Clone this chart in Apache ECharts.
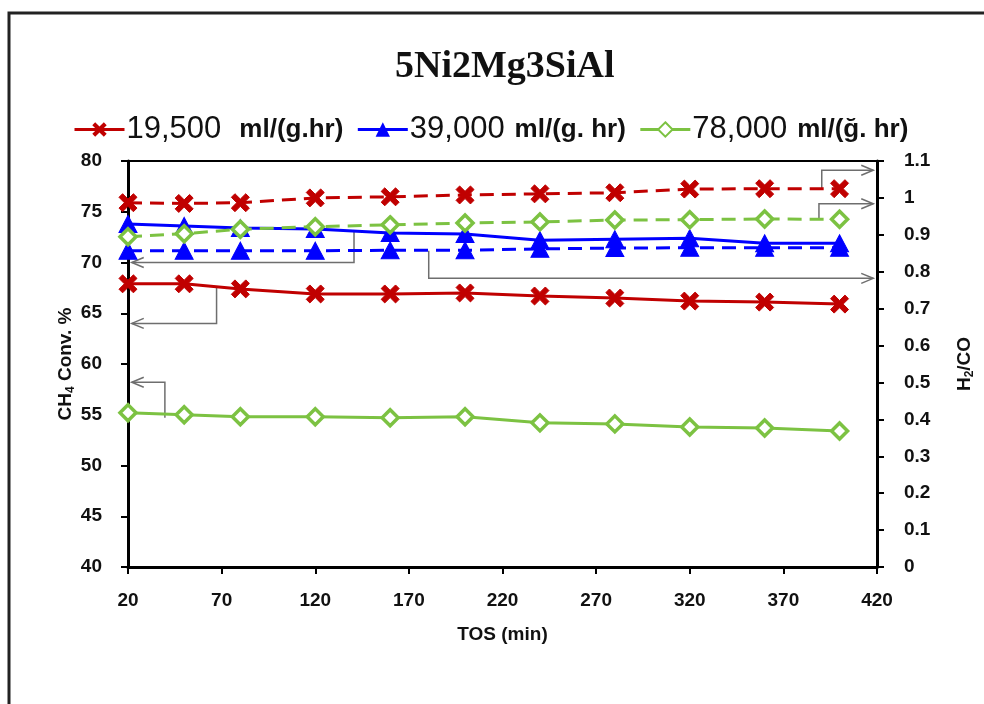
<!DOCTYPE html>
<html>
<head>
<meta charset="utf-8">
<script src="https://cdn.jsdelivr.net/npm/echarts@6/dist/echarts.min.js"></script>
<style>
  html, body { margin: 0; padding: 0; background: #fff; }
  #chart { width: 984px; height: 704px; }
</style>
</head>
<body>
<div id="chart"></div>
<script>
// time on stream, min
const tosMin = [20, 50, 80, 120, 160, 200, 240, 280, 320, 360, 400];

// legend names (GHSV)
const ghsvNames = ['19,500', '39,000', '78,000'];
const ghsvUnits = ['ml/(g.hr)', 'ml/(g. hr)', 'ml/(ğ. hr)'];

// CH4 conversion, % (left axis, solid lines)
const conv19500 = [67.9, 67.9, 67.4, 66.9, 66.9, 67.0, 66.7, 66.5, 66.2, 66.1, 65.9];
const conv39000 = [73.8, 73.6, 73.4, 73.3, 72.9, 72.8, 72.2, 72.3, 72.4, 71.9, 71.9];
const conv78000 = [55.2, 55.0, 54.8, 54.8, 54.7, 54.8, 54.2, 54.1, 53.8, 53.7, 53.4];

// H2/CO ratio (right axis, dashed lines)
const ratio19500 = [0.987, 0.985, 0.987, 1.0, 1.003, 1.008, 1.011, 1.014, 1.024, 1.025, 1.025];
const ratio39000 = [0.857, 0.857, 0.857, 0.857, 0.858, 0.858, 0.862, 0.864, 0.865, 0.865, 0.865];
const ratio78000 = [0.895, 0.903, 0.915, 0.922, 0.927, 0.932, 0.935, 0.940, 0.941, 0.943, 0.942];

// axis ticks
const xTicks = { min: 20, max: 420, interval: 50 };
const convTicks = { min: 40, max: 80, interval: 5 };
const ratioTicks = { min: 0, max: 1.1, interval: 0.1 };

// connector arrows pointing to the axis each curve belongs to: [x, y] in data units
const arrows = [
  { axis: 0, dir: -1, pts: [[140.7, 73.0], [140.7, 70.0], [22, 70.0]] },
  { axis: 0, dir: -1, pts: [[67.3, 67.5], [67.3, 64.0], [22, 64.0]] },
  { axis: 0, dir: -1, pts: [[39.7, 54.7], [39.7, 58.2], [22, 58.2]] },
  { axis: 1, dir: 1, pts: [[180.6, 0.857], [180.6, 0.782], [418, 0.782]] },
  { axis: 1, dir: 1, pts: [[390.5, 1.027], [390.5, 1.075], [418, 1.075]] },
  { axis: 1, dir: 1, pts: [[389, 0.944], [389, 0.984], [418, 0.984]] }
];

const RED = '#c00000';
const BLUE = '#0000ff';
const GREEN = '#7cc242';
const FONT = 'Liberation Sans, Arial, sans-serif';
const xSymbol = 'path://M2,0 L5,3 L8,0 L10,2 L7,5 L10,8 L8,10 L5,7 L2,10 L0,8 L3,5 L0,2 Z';

const pairs = (ys) => tosMin.map((t, i) => [t, ys[i]]);

const mkSeries = (name, ys, yAxisIndex, color, dashed, symbol) => {
  const s = {
    name: name,
    type: 'line',
    yAxisIndex: yAxisIndex,
    data: pairs(ys),
    symbol: symbol,
    symbolSize: 18,
    lineStyle: { color: color, width: 3, type: dashed ? [14, 8] : 'solid' },
    itemStyle: { color: color, borderColor: color },
    emphasis: { disabled: true },
    z: dashed ? 3 : 2
  };
  if (symbol === 'diamond') {
    s.symbolSize = 16;
    s.itemStyle = { color: '#fff', borderColor: color, borderWidth: 3.5 };
    s.z = dashed ? 5 : 4;
  }
  if (symbol === 'triangle') s.symbolSize = [18, 17];
  return s;
};

const axisLabelStyle = { color: '#111', fontSize: 19, fontWeight: 'bold', fontFamily: FONT };
const axisNameStyle = { color: '#111', fontSize: 19, fontWeight: 'bold', fontFamily: FONT };
const axisLineStyle = { show: true, lineStyle: { color: '#000', width: 3 } };
const tickStyle = { show: true, inside: false, length: 7, lineStyle: { color: '#000', width: 2 } };
const subRich = { s: { fontFamily: FONT, fontSize: 12, fontWeight: 'bold', color: '#111', padding: [10, 0, 0, 0] } };

const chart = echarts.init(document.getElementById('chart'), null, { renderer: 'canvas' });

const option = {
  backgroundColor: '#fff',
  animation: false,
  title: {
    text: '5Ni2Mg3SiAl',
    left: 390,
    top: 43,
    textStyle: { fontFamily: 'Liberation Serif, Times New Roman, serif', fontWeight: 'bold', fontSize: 38, color: '#111' }
  },
  legend: {
    data: ghsvNames,
    left: 68,
    top: 109,
    itemWidth: 50,
    itemHeight: 18,
    itemGap: 13,
    lineStyle: { width: 3 },
    formatter: (name) => {
      const i = ghsvNames.indexOf(name);
      return '{n|' + name + '}{' + (i === 0 ? 'u1' : 'u') + '|' + ghsvUnits[i] + '}';
    },
    textStyle: {
      padding: [0, 0, 0, -3],
      rich: {
        n: { fontFamily: FONT, fontSize: 31, color: '#111' },
        u1: { fontFamily: FONT, fontSize: 26, fontWeight: 'bold', color: '#111', padding: [0, 0, 0, 18] },
        u: { fontFamily: FONT, fontSize: 26, fontWeight: 'bold', color: '#111', padding: [0, 0, 0, 10] }
      }
    }
  },
  grid: {
    left: 128, right: 104, top: 161, bottom: 137,
    show: true, borderColor: '#000', borderWidth: 2
  },
  xAxis: {
    type: 'value',
    min: xTicks.min, max: xTicks.max, interval: xTicks.interval,
    name: 'TOS (min)',
    nameLocation: 'middle',
    nameMoveOverlap: false,
    nameGap: 58,
    nameTextStyle: axisNameStyle,
    axisLine: axisLineStyle,
    axisTick: tickStyle,
    axisLabel: Object.assign({ margin: 24 }, axisLabelStyle),
    splitLine: { show: false }
  },
  yAxis: [
    {
      type: 'value',
      position: 'left',
      min: convTicks.min, max: convTicks.max, interval: convTicks.interval,
      name: 'CH{s|4} Conv. %',
      nameLocation: 'middle',
      nameRotate: 90,
      nameMoveOverlap: false,
      nameGap: 51,
      nameTextStyle: Object.assign({ rich: subRich }, axisNameStyle),
      axisLine: axisLineStyle,
      axisTick: tickStyle,
      axisLabel: Object.assign({ margin: 26 }, axisLabelStyle),
      splitLine: { show: false }
    },
    {
      type: 'value',
      position: 'right',
      min: ratioTicks.min, max: ratioTicks.max, interval: ratioTicks.interval,
      name: 'H{s|2}/CO',
      nameLocation: 'middle',
      nameRotate: 90,
      nameMoveOverlap: false,
      nameGap: 77,
      nameTextStyle: Object.assign({ rich: subRich }, axisNameStyle),
      axisLine: axisLineStyle,
      axisTick: tickStyle,
      axisLabel: Object.assign({ margin: 27 }, axisLabelStyle),
      splitLine: { show: false }
    }
  ],
  series: [
    mkSeries(ghsvNames[0], conv19500, 0, RED, false, xSymbol),
    mkSeries(ghsvNames[1], conv39000, 0, BLUE, false, 'triangle'),
    mkSeries(ghsvNames[2], conv78000, 0, GREEN, false, 'diamond'),
    mkSeries(ghsvNames[0] + ' H2/CO', ratio19500, 1, RED, true, xSymbol),
    mkSeries(ghsvNames[1] + ' H2/CO', ratio39000, 1, BLUE, true, 'triangle'),
    mkSeries(ghsvNames[2] + ' H2/CO', ratio78000, 1, GREEN, true, 'diamond')
  ]
};

chart.setOption(option);

// frame and connector arrows
const graphics = [{
  type: 'rect',
  shape: { x: 9, y: 13, width: 1000, height: 720 },
  style: { fill: 'none', stroke: '#222', lineWidth: 3 },
  silent: true
}];
arrows.forEach((a) => {
  const px = a.pts.map((p) => chart.convertToPixel({ xAxisIndex: 0, yAxisIndex: a.axis }, p));
  const tip = px[px.length - 1];
  graphics.push({
    type: 'polyline',
    shape: { points: px },
    style: { fill: 'none', stroke: '#6e6e6e', lineWidth: 1.5 },
    z: 1
  });
  graphics.push({
    type: 'polyline',
    shape: { points: [[tip[0] - a.dir * 12, tip[1] - 5], tip, [tip[0] - a.dir * 12, tip[1] + 5]] },
    style: { fill: 'none', stroke: '#6e6e6e', lineWidth: 1.5 },
    z: 1
  });
});
chart.setOption({ graphic: graphics });
</script>
</body>
</html>
